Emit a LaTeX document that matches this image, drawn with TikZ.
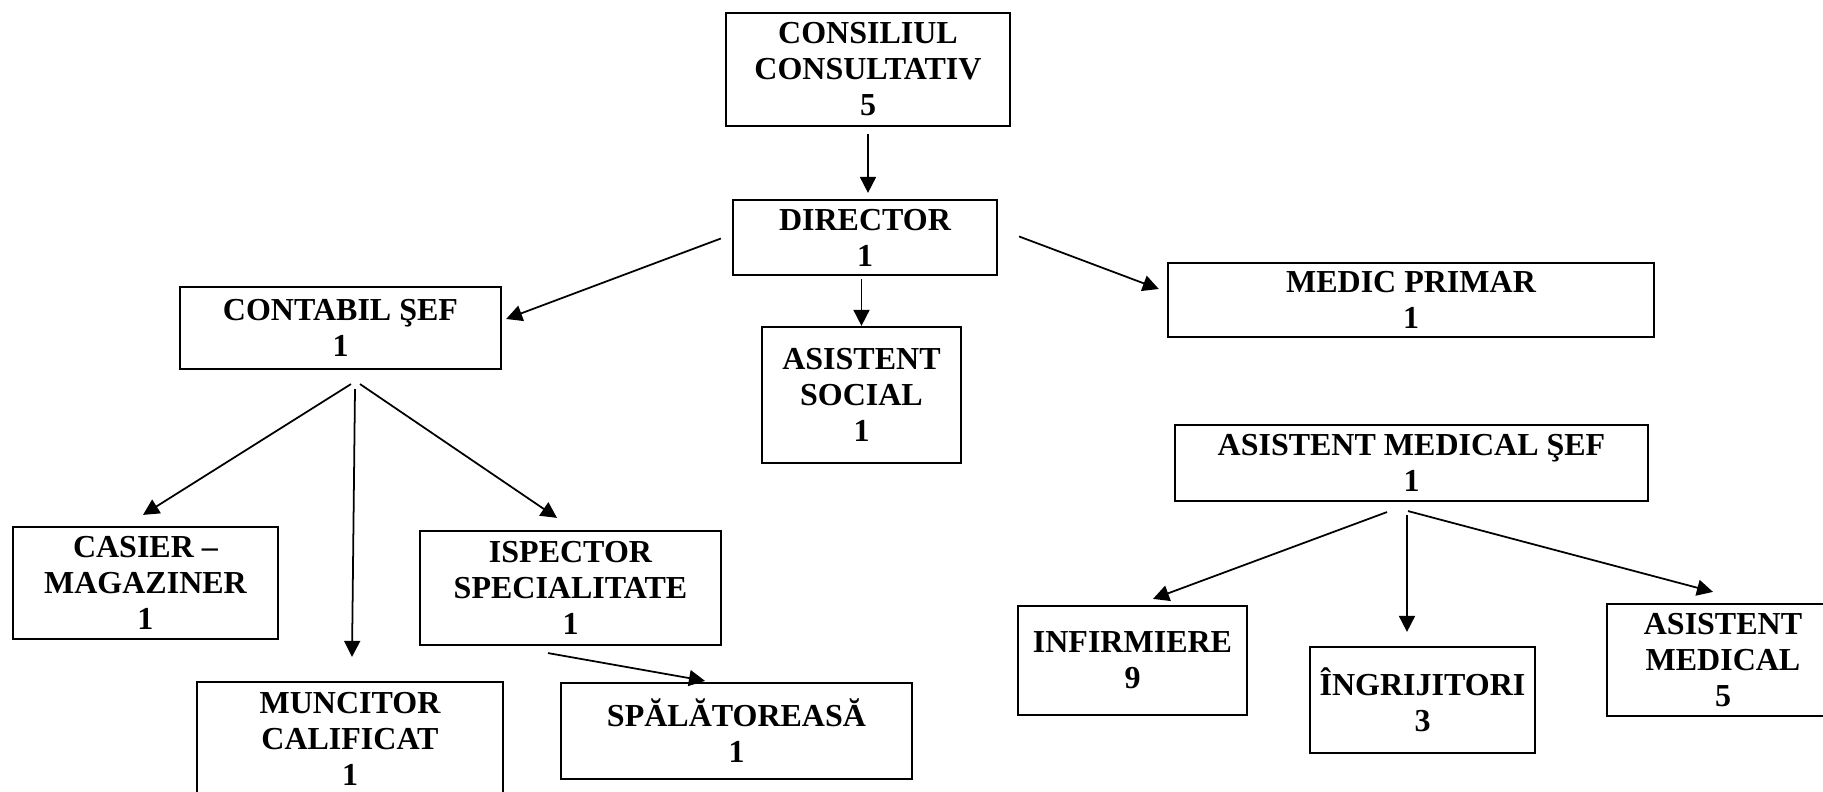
\documentclass[tikz,border=0pt]{standalone}
\usepackage{fontspec}
\setmainfont{Liberation Serif}
\usetikzlibrary{calc,arrows.meta}

\begin{document}
\begin{tikzpicture}[x=0.01cm,y=-0.01cm,>={Triangle[length=1.6mm,width=1.6mm]},
  box/.style={rectangle,draw,line width=0.6pt,align=center,inner sep=0pt,
    font=\fontsize{9.1pt}{10.25pt}\selectfont\bfseries},
  arr/.style={->,line width=0.5pt}]
\useasboundingbox (0,0) rectangle (1823,792);

\path (868,69.5) node[box,minimum width=2.84cm,minimum height=1.13cm] (cons){CONSILIUL\\CONSULTATIV\\5};
\path (865,237.5) node[box,minimum width=2.64cm,minimum height=0.75cm] (dir){DIRECTOR\\1};
\draw[arr,shorten <=0.07cm,shorten >=0.06cm] (cons.south) -- (cons.south |- dir.north);

\path (340.5,328) node[box,minimum width=3.21cm,minimum height=0.82cm] (contabil){CONTABIL ŞEF\\1};
\draw[arr] ($(dir.west)+(-11,1)$) -- ($(contabil.east)+(4,-9)$);

\path (861.5,395) node[box,minimum width=1.99cm,minimum height=1.36cm] (social){ASISTENT\\SOCIAL\\1};
\draw[arr,shorten <=0.03cm] (social.north |- dir.south) -- (social.north);

\path (1411,300) node[box,minimum width=4.86cm,minimum height=0.74cm] (medic){MEDIC PRIMAR\\1};
\draw[arr] ($(dir.east)+(21,-1)$) -- ($(medic.west)+(-8,-11)$);

\path (145.5,583) node[box,minimum width=2.65cm,minimum height=1.12cm] (casier){CASIER --\\MAGAZINER\\1};
\draw[arr] ($(contabil.south)+(10.5,14)$) -- ($(casier.north)+(-2.5,-11)$);

\path (350,739) node[box,minimum width=3.06cm,minimum height=1.14cm] (muncitor){MUNCITOR\\CALIFICAT\\1};
\draw[arr] ($(contabil.south)+(14.5,19)$) -- ($(muncitor.north)+(2,-24)$);

\path (570.5,588) node[box,minimum width=3.01cm,minimum height=1.14cm] (ispector){ISPECTOR\\SPECIALITATE\\1};
\draw[arr] ($(contabil.south)+(19.5,14)$) -- ($(ispector.north)+(-13.5,-12)$);

\path (736.5,731) node[box,minimum width=3.51cm,minimum height=0.96cm] (spal){SPĂLĂTOREASĂ\\1};
\draw[arr] ($(ispector.south)+(-22.5,7)$) -- ($(spal.north)+(-31.5,-1)$);

\path (1411.5,463) node[box,minimum width=4.73cm,minimum height=0.76cm] (ams){ASISTENT MEDICAL ŞEF\\1};

\path (1132.5,660.5) node[box,minimum width=2.29cm,minimum height=1.09cm] (infirm){INFIRMIERE\\9};
\draw[arr] ($(ams.south)+(-24.5,10)$) -- ($(infirm.north)+(20.5,-6)$);

\path (1422.5,700) node[box,minimum width=2.25cm,minimum height=1.06cm] (ingrij){ÎNGRIJITORI\\3};
\draw[arr] ($(ams.south)+(-4.5,13)$) -- ($(ingrij.north)+(-15.5,-14)$);

\path (1723,660) node[box,minimum width=2.32cm,minimum height=1.12cm] (asmed){ASISTENT\\MEDICAL\\5};
\draw[arr] ($(ams.south)+(-3.5,9)$) -- ($(asmed.north)+(-10,-11)$);
\end{tikzpicture}
\end{document}
